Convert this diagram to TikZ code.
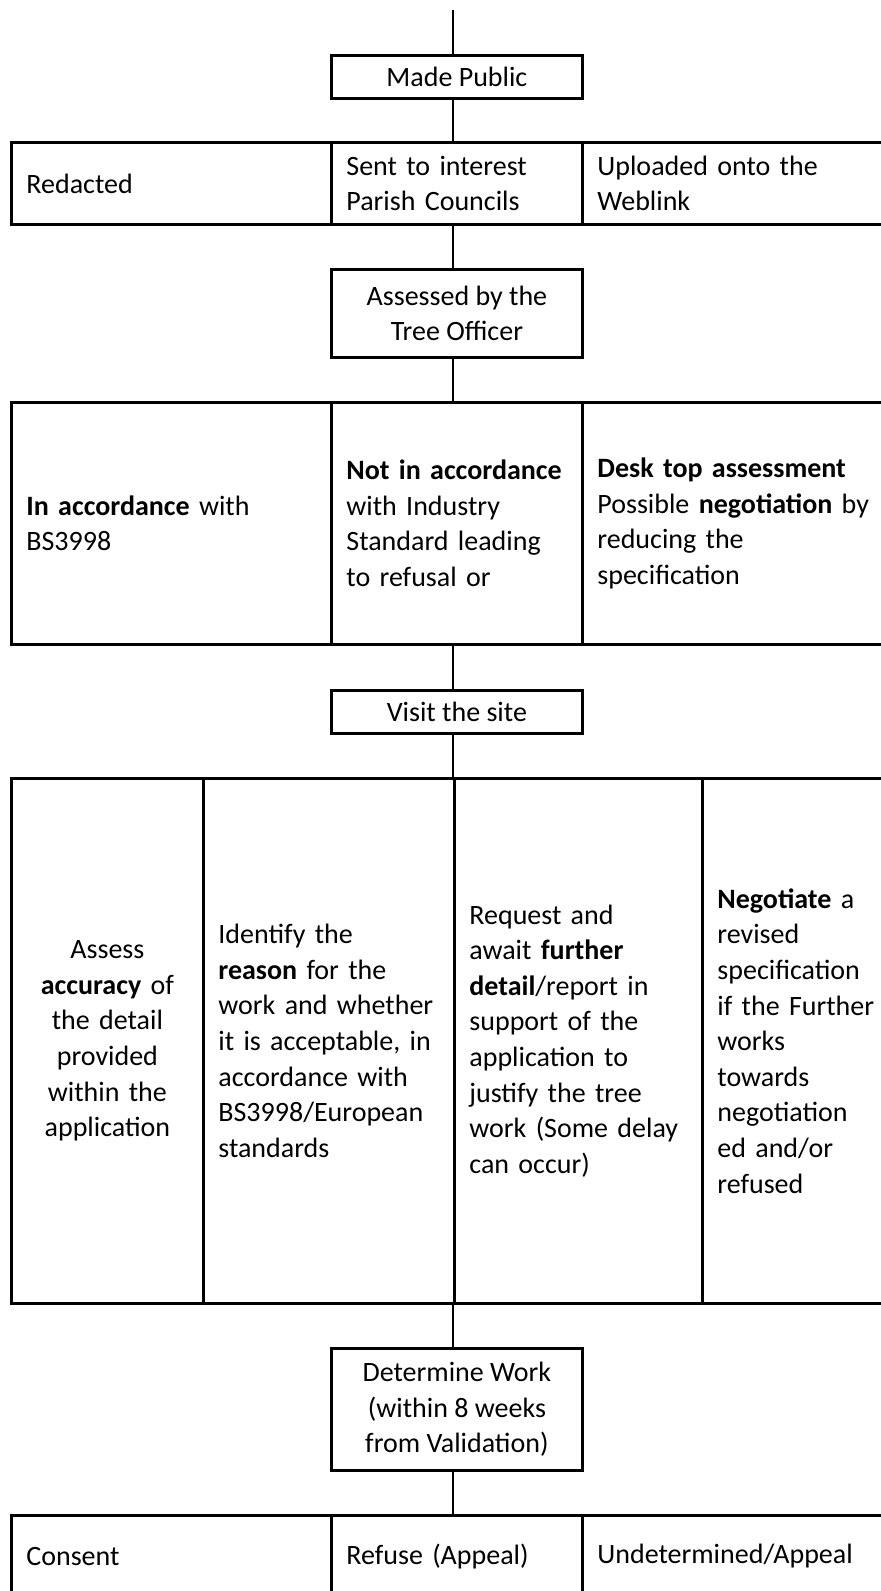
\documentclass[tikz,border=0pt]{standalone}
\usepackage{fontspec}
\setmainfont{Carlito}
\newcommand{\boxfont}{\fontsize{14}{17.8}\selectfont}
\begin{document}
\begin{tikzpicture}
      [x=0.5pt,y=-0.5pt,line width=1.4pt,
      step node/.style={rectangle,draw,line width=1.4pt,anchor=north west,align=center,
        inner sep=0pt,minimum width=125.5pt,font=\boxfont},
      cell node/.style={rectangle,draw,line width=1.4pt,anchor=north west,align=left,
        inner xsep=7.5pt,inner ysep=0pt,text width=#1,font=\boxfont},
      mid cell/.style={cell node=#1,align=center}]
      \useasboundingbox (0,0) rectangle (881,1591);
      \coordinate (top) at (453,10);
      % steps
      \node[step node,minimum height=21.5pt] (pub) at (330,54) {Made Public};
      \node[step node,minimum height=44pt] (ass) at (330,268) {Assessed by the\\Tree Officer};
      \node[step node,minimum height=21.5pt] (visit) at (330,689) {Visit the site};
      \node[step node,minimum height=61pt] (det) at (330,1347) {Determine Work\\(within 8 weeks\\from Validation)};
      % row 1
      \node[cell node=145pt,minimum height=41pt] (red) at (10,141) {Redacted};
      \node[cell node=110.5pt,minimum height=41pt] (sent) at (330,141) {Sent to interest\\Parish Councils};
      \node[cell node=139.5pt,minimum height=41pt] (upl) at (581,141) {Uploaded onto the\\Weblink};
      % row 2
      \node[cell node=145pt,minimum height=121pt] (inacc) at (10,401) {\textbf{In accordance} with\\BS3998};
      \node[cell node=110.5pt,minimum height=121pt] (notin) at (330,401) {\textbf{Not in accordance}\\with Industry\\Standard leading\\to refusal or};
      \node[cell node=139.5pt,minimum height=121pt] (desk) at (581,401) {\textbf{Desk top assessment}\\Possible \textbf{negotiation} by\\reducing the\\specification};
      % row 3
      \node[mid cell=81pt,minimum height=262.5pt] (acc) at (10,777) {Assess\\\textbf{accuracy} of\\the detail\\provided\\within the\\application};
      \node[cell node=110.5pt,minimum height=262.5pt] (reas) at (202,777) {Identify the\\\textbf{reason} for the\\work and whether\\it is acceptable, in\\accordance with\\BS3998/European\\standards};
      \node[cell node=109pt,minimum height=262.5pt] (req) at (453,777) {Request and\\await \textbf{further}\\\textbf{detail}/report in\\support of the\\application to\\justify the tree\\work (Some delay\\can occur)};
      \node[cell node=79.5pt,minimum height=262.5pt] (neg) at (701,777) {\textbf{Negotiate} a\\revised\\specification\\if the Further\\works\\towards\\negotiation\\ed and/or\\refused};
      % row 4
      \node[cell node=145pt,minimum height=41pt] (cons) at (10,1514) {Consent};
      \node[cell node=110.5pt,minimum height=41pt] (ref) at (330,1514) {Refuse (Appeal)};
      \node[cell node=139.5pt,minimum height=41pt] (und) at (581,1514) {Undetermined/Appeal};
      % connectors
      \draw (top) -- (pub.north -| top);
      \draw (pub.south -| top) -- (sent.north -| top);
      \draw (sent.south -| top) -- (ass.north -| top);
      \draw (ass.south -| top) -- (notin.north -| top);
      \draw (notin.south -| top) -- (visit.north -| top);
      \draw (visit.south -| top) -- (req.north west);
      \draw (req.south west) -- (det.north -| top);
      \draw (det.south -| top) -- (ref.north -| top);
    \end{tikzpicture}
\end{document}
